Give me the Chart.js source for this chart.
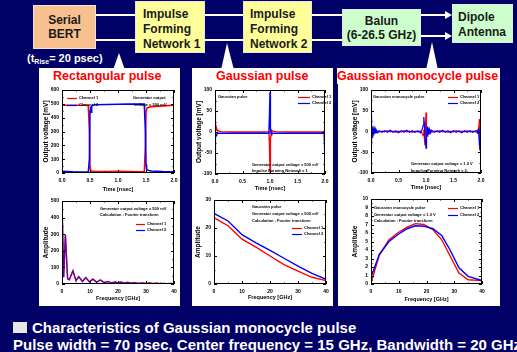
<!DOCTYPE html>
<html>
<head>
<meta charset="utf-8">
<script src="https://cdn.jsdelivr.net/npm/chart.js@4.4.0/dist/chart.umd.min.js"></script>
<style>
  body { margin: 0; }
  #slide { position: relative; width: 517px; height: 352px; background: #000066; overflow: hidden;
           font-family: "Liberation Sans", Arial, sans-serif; }
  .abs { position: absolute; }
  .box { position: absolute; box-sizing: border-box; border: 1px solid #e6e6e6; font-weight: bold;
         font-size: 12px; color: #1a1a1a; }
  .panel { position: absolute; background: #fff; top: 68px; height: 238px; }
  .ptitle { position: absolute; top: 68px; color: #ff0000; font-weight: bold; font-size: 12.5px; line-height: 16px; white-space: nowrap; }
  .note { position: absolute; color: #fff; font-weight: bold; white-space: nowrap; }
  canvas { position: absolute; }
</style>
</head>
<body>
<div id="slide">
  <svg class="abs" width="517" height="352" style="left:0;top:0">
    <g stroke="#fff" stroke-width="2">
      <line x1="96" y1="15" x2="135" y2="15"/>
      <line x1="96" y1="40" x2="135" y2="40"/>
      <line x1="205" y1="15" x2="243" y2="15"/>
      <line x1="205" y1="40" x2="243" y2="40"/>
      <line x1="312" y1="15" x2="342" y2="15"/>
      <line x1="312" y1="40" x2="342" y2="40"/>
      <line x1="421" y1="15" x2="446" y2="15"/>
      <line x1="421" y1="36" x2="446" y2="36"/>
    </g>
    <g fill="#fff">
      <polygon points="445,11 452,15 445,19"/>
      <polygon points="445,32 452,36 445,40"/>
      <polygon points="113,70 119,53 125,70"/>
      <polygon points="221,70 227,43 234,70"/>
      <polygon points="426,70 432,42 438,70"/>
    </g>
  </svg>

  <div class="box" style="left:33px;top:5px;width:63px;height:44px;background:#f9c08f;text-align:center;padding-top:7px;line-height:14px">Serial<br>BERT</div>
  <div class="box" style="left:135px;top:1px;width:70px;height:52px;background:#ffff99;padding:5px 0 0 7px;line-height:15px">Impulse<br>Forming<br>Network 1</div>
  <div class="box" style="left:243px;top:1px;width:69px;height:52px;background:#ffff99;padding:5px 0 0 6px;line-height:15px">Impulse<br>Forming<br>Network 2</div>
  <div class="box" style="left:342px;top:9px;width:79px;height:37px;background:#ccffcc;text-align:center;padding-top:4px;line-height:14px">Balun<br>(6-26.5 GHz)</div>
  <div class="box" style="left:452px;top:4px;width:61px;height:39px;background:#ccffcc;padding:5px 0 0 5px;line-height:15px">Dipole<br>Antenna</div>

  <div class="note" style="left:27px;top:51px;font-size:11px;line-height:14px">(t<span style="font-size:7px;position:relative;top:2px">Rise</span>= 20 psec)</div>

  <div class="panel" style="left:39px;width:141px"></div>
  <div class="panel" style="left:192px;width:141px"></div>
  <div class="panel" style="left:338px;width:162px"></div>

  <div class="ptitle" style="left:53px">Rectangular pulse</div>
  <div class="ptitle" style="left:216px">Gaussian pulse</div>
  <div class="ptitle" style="left:337px;background:#fff;padding-right:2px">Gaussian monocycle pulse</div>

  <canvas id="c1"></canvas>
  <canvas id="c2"></canvas>
  <canvas id="c3"></canvas>
  <canvas id="c4"></canvas>
  <canvas id="c5"></canvas>
  <canvas id="c6"></canvas>

  <div class="abs" style="left:13px;top:322px;width:14px;height:11px;background:#e6e6e6"></div>
  <div class="note" style="left:32px;top:320px;font-size:15px;line-height:16px">Characteristics of Gaussian monocycle pulse</div>
  <div class="note" style="left:13px;top:337px;font-size:15px;line-height:16px">Pulse width = 70 psec, Center frequency = 15 GHz, Bandwidth = 20 GHz</div>
</div>

<script>
// rectangular pulse, time domain [nsec] / [mV]
const rectTime = [0, 0.1, 0.2, 0.3, 0.4, 0.47, 0.49, 0.5, 0.51, 0.52, 0.53, 0.55, 0.6, 0.8, 1.0, 1.2, 1.4, 1.47, 1.49, 1.5, 1.51, 1.52, 1.55, 1.6, 1.8, 2.0];
const rectCh1 = [490, 490, 490, 490, 490, 488, 300, 40, 18, 15, 12, 12, 10, 10, 12, 10, 8, 8, 200, 450, 465, 470, 475, 480, 485, 490];
const rectCh2 = [12, 10, 8, 7, 6, 6, 100, 450, 480, 440, 485, 490, 493, 495, 497, 498, 498, 498, 300, 60, 30, 22, 18, 14, 10, 8];

// gaussian pulse, time domain
const gaussTime = [0, 0.005, 0.01, 0.02, 0.03, 0.04, 0.05, 0.07, 0.1, 0.3, 0.5, 0.7, 0.9, 0.97, 0.98, 0.99, 1.0, 1.005, 1.01, 1.02, 1.03, 1.05, 1.1, 1.3, 1.5, 1.7, 1.9, 1.97, 1.985, 1.995, 2.0];
const gaussCh1 = [80, 40, 10, 5, 8, 3, 4, 2, 1, 0, 0, 0, 0, 1, 3, -30, -95, -60, -15, -8, 4, 2, 1, 0, 0, 0, 0, 0, 2, 40, 75];
const gaussCh2 = [-95, -50, -15, -8, -5, -4, -4, -3, -3, -3, -3, -3, -3, -3, -2, 40, 95, 30, 10, -5, -3, -3, -3, -3, -3, -3, -3, -3, -5, -50, -100];

// gaussian monocycle pulse, time domain
const monoTime = [0, 0.004, 0.008, 0.012, 0.016, 0.02, 0.025, 0.03, 0.035, 0.04, 0.045, 0.05, 0.06, 0.07, 0.08, 0.09, 0.1, 0.12, 0.15, 0.2,
  0.25, 0.3, 0.35, 0.4, 0.45, 0.5, 0.55, 0.6, 0.65, 0.7, 0.75, 0.8, 0.85, 0.9, 0.93, 0.95, 0.96, 0.97, 0.98, 0.99,
  1.0, 1.01, 1.02, 1.03, 1.04, 1.05, 1.06, 1.08, 1.1, 1.15, 1.2, 1.25, 1.3, 1.35, 1.4, 1.45, 1.5, 1.55, 1.6, 1.65,
  1.7, 1.75, 1.8, 1.85, 1.9, 1.93, 1.95, 1.96, 1.97, 1.98, 1.99, 2.0];
const monoCh1 = [-35, 10, -15, 12, -10, 8, -8, 6, -6, 5, -4, 4, -3, 3, -2, 2, -2, 1, -1, 1,
  -1, 2, -1, 1, -2, 1, -1, 2, -1, 1, -2, 1, -1, 1, -4, -10, 5, -15, -33, 10,
  46, 15, -12, 8, -6, 5, -4, 3, -2, 1, -1, 2, -1, 1, -2, 1, -1, 2, -1, 1,
  -1, 2, -1, 1, -1, 3, -5, 8, 30, -10, -50, -15];
const monoCh2 = [40, -20, 22, -18, 15, -14, 12, -10, 9, -8, 7, -6, 5, -5, 4, -4, 3, -3, 2, -2,
  2, -2, 3, -2, 2, -3, 2, -2, 3, -2, 2, -2, 2, -3, 5, 15, 35, 20, -10, -25,
  -40, -10, 12, -10, 8, -7, 6, -4, 3, -2, 2, -2, 3, -2, 2, -3, 2, -2, 2, -3,
  2, -2, 2, -2, 2, -3, 5, -8, -30, -45, 10, 35];

// spectra [GHz] / amplitude
const rectFreq = [0, 0.6, 1.2, 2.0, 2.6, 3.9, 5.0, 6.0, 7.3, 8.5, 9.8, 11, 12.4, 13.7, 15, 16.4, 17.7, 19, 20, 21, 22.3, 23.5, 24.8, 26, 27.4, 28.6, 30, 31.2, 32.5, 33.8, 35, 36.4, 37.6, 39, 40];
const rectSpec1 = [495, 42, 295, 32, 26, 78, 21, 43, 16, 38, 13, 29, 11, 24, 9, 14, 7, 12, 7, 11, 6, 9, 5, 8, 4, 7, 3, 6, 3, 5, 2, 4, 2, 3, 2];
const rectSpec2 = [500, 40, 300, 30, 25, 80, 20, 45, 15, 40, 12, 30, 10, 25, 8, 15, 6, 12, 6, 12, 5, 10, 4, 8, 3, 7, 3, 6, 2, 5, 2, 4, 2, 3, 2];

const gaussFreq = [0, 5, 10, 15, 20, 25, 30, 35, 40];
const gaussSpec1 = [23.7, 20.8, 16.0, 13.2, 10.0, 6.9, 4.6, 2.4, 1.2];
const gaussSpec2 = [25.2, 22.5, 17.6, 14.7, 12.0, 9.2, 6.4, 3.8, 1.7];

const monoFreq = [0, 3, 6.5, 9.6, 13, 16, 19, 22.3, 25.5, 28.5, 31.7, 35, 40];
const monoSpec1 = [0.1, 3.4, 5.2, 6.0, 6.7, 7.1, 7.0, 6.4, 5.2, 3.3, 1.3, 0.5, 0.4];
const monoSpec2 = [0.8, 3.5, 5.0, 5.8, 6.5, 6.85, 6.8, 6.5, 5.7, 4.0, 1.9, 0.9, 0.4];

const RED = '#ff0000';
const BLUE = '#0000ff';
const FONT = '"Liberation Sans", Arial, sans-serif';

// black box round the plot with inward ticks on all four sides
const framePlugin = {
  id: 'frame',
  afterDraw(chart) {
    const { ctx, chartArea: a, scales } = chart;
    ctx.save();
    ctx.strokeStyle = '#000';
    ctx.lineWidth = 1;
    ctx.strokeRect(a.left + 0.5, a.top + 0.5, a.width - 1, a.height - 1);
    const mark = (scale, horiz) => {
      const vals = scale.ticks.map(t => t.value);
      const step = vals[1] - vals[0];
      ctx.beginPath();
      vals.forEach(v => {
        [[v, 3], [v + step / 2, 1.5]].forEach(([val, len]) => {
          if (val > scale.max + 1e-9) return;
          const p = Math.round(scale.getPixelForValue(val)) + 0.5;
          if (horiz) {
            ctx.moveTo(p, a.bottom); ctx.lineTo(p, a.bottom - len);
            ctx.moveTo(p, a.top); ctx.lineTo(p, a.top + len);
          } else {
            ctx.moveTo(a.left, p); ctx.lineTo(a.left + len, p);
            ctx.moveTo(a.right, p); ctx.lineTo(a.right - len, p);
          }
        });
      });
      ctx.stroke();
    };
    mark(scales.x, true);
    mark(scales.y, false);
    ctx.restore();
  }
};

// small captions and legend samples placed inside the plot
const notesPlugin = {
  id: 'notes',
  afterDraw(chart, args, opts) {
    const { ctx, chartArea: a } = chart;
    ctx.save();
    ctx.font = 'bold 4px ' + FONT;
    ctx.textBaseline = 'middle';
    ctx.fillStyle = '#000';
    (opts.items || []).forEach(it => {
      const y = a.top + it.dy;
      if (it.line) {
        ctx.strokeStyle = it.color;
        ctx.lineWidth = 1.2;
        ctx.beginPath();
        ctx.moveTo(a.left + it.line[0], y + 0.5);
        ctx.lineTo(a.left + it.line[1], y + 0.5);
        ctx.stroke();
        ctx.fillText(it.text, a.left + it.line[1] + 2, y);
      } else {
        ctx.fillText(it.text, a.left + it.dx, y);
      }
    });
    ctx.restore();
  }
};

function legendItems(x0, x1, dy1, dy2) {
  return [
    { line: [x0, x1], dy: dy1, color: RED, text: 'Channel 1' },
    { line: [x0, x1], dy: dy2, color: BLUE, text: 'Channel 2' }
  ];
}

function pts(xs, ys) {
  return xs.map((x, i) => ({ x: x, y: ys[i] }));
}

function makePlot(id, cfg) {
  const yW = 24, padT = 4, padR = 8;
  const [left, top, w, h] = cfg.area;
  const cv = document.getElementById(id);
  cv.width = yW + w + padR;
  cv.height = padT + h + cfg.xH;
  cv.style.left = (left - yW) + 'px';
  cv.style.top = (top - padT) + 'px';

  const tickFont = { family: FONT, size: 5, weight: 'bold' };

  return new Chart(cv, {
    type: 'line',
    data: {
      datasets: cfg.series.map(s => ({
        data: pts(s.xs, s.ys),
        borderColor: s.color,
        borderWidth: s.width || 1.4,
        pointRadius: 0,
        fill: false,
        tension: 0
      }))
    },
    options: {
      responsive: false,
      animation: false,
      layout: { padding: { top: padT, right: padR, left: 0, bottom: 0 } },
      plugins: {
        legend: { display: false },
        tooltip: { enabled: false },
        notes: { items: cfg.notes }
      },
      scales: {
        x: {
          type: 'linear',
          min: cfg.x.min, max: cfg.x.max,
          grid: { display: false, drawTicks: false },
          border: { display: false },
          ticks: {
            stepSize: cfg.x.step, autoSkip: false, maxRotation: 0, padding: 4.5,
            color: '#000', font: tickFont,
            callback: v => v.toFixed(cfg.x.dec)
          },
          title: { display: true, text: cfg.x.title, color: '#000', padding: { top: 0, bottom: 1 },
                   font: { family: FONT, size: 5.5, weight: 'bold' } },
          afterFit: scale => { scale.height = cfg.xH; }
        },
        y: {
          min: cfg.y.min, max: cfg.y.max,
          grid: { display: false, drawTicks: false },
          border: { display: false },
          ticks: { stepSize: cfg.y.step, autoSkip: false, padding: 3, color: '#000', font: tickFont },
          title: { display: true, text: cfg.y.title, color: '#000', padding: { top: 4, bottom: 0 },
                   font: { family: FONT, size: 6.5, weight: 'bold' } },
          afterFit: scale => { scale.width = yW; }
        }
      }
    },
    plugins: [framePlugin, notesPlugin]
  });
}

const timeAxis = { min: 0, max: 2, step: 0.5, dec: 1, title: 'Time [nsec]' };
const freqAxis = { min: 0, max: 40, step: 10, dec: 0, title: 'Frequency [GHz]' };

makePlot('c1', {
  area: [62, 88, 112, 85], xH: 21,
  x: timeAxis,
  y: { min: 0, max: 600, step: 100, title: 'Output voltage [mV]' },
  series: [
    { xs: rectTime, ys: rectCh2, color: BLUE, width: 1.6 },
    { xs: rectTime, ys: rectCh1, color: RED, width: 1.6 }
  ],
  notes: legendItems(5, 15, 8, 15).concat([
    { text: 'Generator output', dx: 71, dy: 8 },
    { text: 'voltage = 500 mV', dx: 72, dy: 15 }
  ])
});

makePlot('c2', {
  area: [215, 88, 110, 86], xH: 19,
  x: timeAxis,
  y: { min: -100, max: 100, step: 50, title: 'Output voltage [mV]' },
  series: [
    { xs: gaussTime, ys: gaussCh2, color: BLUE },
    { xs: gaussTime, ys: gaussCh1, color: RED }
  ],
  notes: [{ text: 'Gaussian pulse', dx: 3, dy: 7 }].concat(legendItems(83, 95, 7, 13), [
    { text: 'Generator output voltage = 500 mV', dx: 37, dy: 75 },
    { text: 'Impulse Forming Network x 1', dx: 37, dy: 81 }
  ])
});

makePlot('c3', {
  area: [371, 88, 110, 85], xH: 19,
  x: timeAxis,
  y: { min: -100, max: 100, step: 50, title: 'Output voltage [mV]' },
  series: [
    { xs: monoTime, ys: monoCh2, color: BLUE, width: 1.2 },
    { xs: monoTime, ys: monoCh1, color: RED, width: 1.2 }
  ],
  notes: [{ text: 'Gaussian monocycle pulse', dx: 2, dy: 7 }].concat(legendItems(77, 87, 7, 13), [
    { text: 'Generator output voltage = 1.0 V', dx: 40, dy: 74 },
    { text: 'Impulse Forming Network x 2', dx: 40, dy: 81 }
  ])
});

makePlot('c4', {
  area: [62, 199, 112, 85], xH: 19,
  x: freqAxis,
  y: { min: 0, max: 500, step: 100, title: 'Amplitude' },
  series: [
    { xs: rectFreq, ys: rectSpec2, color: 'rgba(0,0,255,0.6)' },
    { xs: rectFreq, ys: rectSpec1, color: RED }
  ],
  notes: [
    { text: 'Generator output voltage = 500 mV', dx: 38, dy: 8 },
    { text: 'Calculation : Fourier transform', dx: 38, dy: 14 }
  ].concat(legendItems(74, 83, 23, 29))
});

makePlot('c5', {
  area: [214, 198, 112, 86], xH: 18,
  x: freqAxis,
  y: { min: 0, max: 30, step: 10, title: 'Amplitude' },
  series: [
    { xs: gaussFreq, ys: gaussSpec2, color: BLUE },
    { xs: gaussFreq, ys: gaussSpec1, color: RED }
  ],
  notes: [
    { text: 'Gaussian pulse', dx: 38, dy: 7 },
    { text: 'Generator output voltage = 500 mV', dx: 38, dy: 14 },
    { text: 'Calculation : Fourier transform', dx: 38, dy: 21 }
  ].concat(legendItems(78, 88, 28, 34))
});

makePlot('c6', {
  area: [371, 197, 111, 87], xH: 20,
  x: freqAxis,
  y: { min: 0, max: 10, step: 1, title: 'Amplitude' },
  series: [
    { xs: monoFreq, ys: monoSpec2, color: BLUE },
    { xs: monoFreq, ys: monoSpec1, color: RED }
  ],
  notes: [
    { text: 'Gaussian monocycle pulse', dx: 3, dy: 9 },
    { text: 'Generator output voltage = 1.0 V', dx: 3, dy: 16 },
    { text: 'Calculation : Fourier transform', dx: 3, dy: 22 }
  ].concat(legendItems(77, 87, 9, 16))
});
</script>
</body>
</html>
